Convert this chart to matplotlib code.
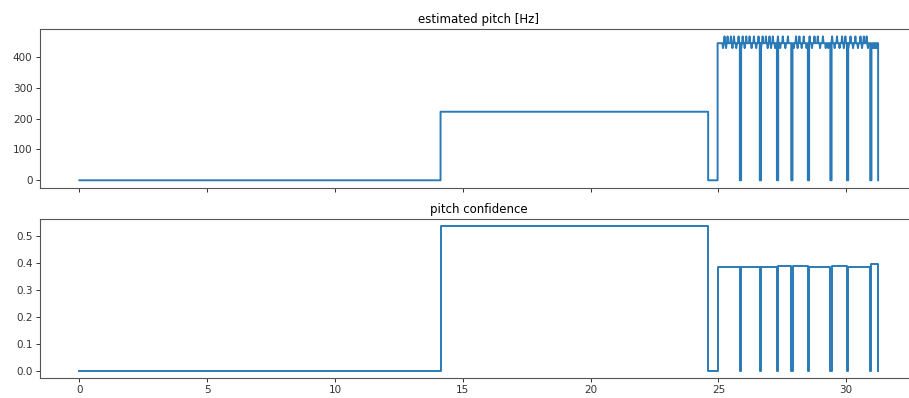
import numpy as np
import matplotlib
matplotlib.use("Agg")
import matplotlib.pyplot as plt

# unvoiced / voiced blocks (seconds)
onset_low = 14.13          # first note starts
offset_low = 24.60         # first note ends
onset_high = 24.97         # second note starts
offset_high = 31.25        # last frame
pitch_low = 222.0
pitch_high = 444.0
conf_low = 0.535

# small pitch wobble inside the high note
up_times = [25.24, 25.36, 25.49, 25.61, 25.79, 25.95, 26.09, 26.22, 26.39, 26.57,
            26.73, 26.86, 27.00, 27.13, 27.33, 27.52, 27.72, 28.04, 28.17, 28.34,
            28.57, 28.76, 28.89, 29.09, 29.45, 29.64, 29.84, 29.97, 30.17, 30.36,
            30.56, 30.69, 30.80]
up_value = 466.0
down_times = [25.18, 25.30, 25.55, 25.70, 25.89, 26.03, 26.30, 26.48, 26.67, 26.93,
              27.06, 27.22, 27.42, 27.62, 27.95, 28.10, 28.26, 28.45, 28.66, 28.98,
              29.20, 29.30, 29.55, 29.74, 29.91, 30.08, 30.27, 30.46, 30.62, 30.85,
              31.05, 31.12, 31.18]
down_value = 428.0

# frames where the tracker dropped to 0
drop_times = [25.84, 26.62, 27.29, 27.85, 28.50, 29.38, 30.03, 30.94]
# confidence level of each piece between drops (9 pieces)
conf_levels = [0.383, 0.385, 0.386, 0.390, 0.387, 0.384, 0.387, 0.384, 0.394]

DROP_W = 0.05   # width of a dropped frame (s)
SPIKE_W = 0.025  # half-width of a wobble spike (s)


def build_pitch():
    t = [0.0, onset_low, onset_low, offset_low, offset_low, onset_high, onset_high]
    v = [0.0, 0.0, pitch_low, pitch_low, 0.0, 0.0, pitch_high]
    ev = [(x, up_value, "s") for x in up_times]
    ev += [(x, down_value, "s") for x in down_times]
    ev += [(x, 0.0, "d") for x in drop_times]
    for x, val, kind in sorted(ev):
        if kind == "s":
            t += [x - SPIKE_W, x, x + SPIKE_W]
            v += [pitch_high, val, pitch_high]
        else:
            t += [x, x, x + DROP_W, x + DROP_W]
            v += [pitch_high, 0.0, 0.0, pitch_high]
    t += [offset_high, offset_high]
    v += [pitch_high, 0.0]
    return np.array(t), np.array(v)


def build_conf():
    t = [0.0, onset_low, onset_low, offset_low, offset_low, onset_high]
    v = [0.0, 0.0, conf_low, conf_low, 0.0, 0.0]
    edges = [onset_high] + drop_times + [offset_high]
    for i, lvl in enumerate(conf_levels):
        a = edges[i] + (DROP_W if i > 0 else 0.0)
        b = edges[i + 1]
        t += [a, a, b, b]
        v += [0.0, lvl, lvl, 0.0]
    return np.array(t), np.array(v)


fig = plt.figure(figsize=(9.09, 3.98), dpi=100)
ax1 = fig.add_axes([39.5 / 909, 1 - 187.7 / 398, 878.5 / 909, 158.7 / 398])
ax2 = fig.add_axes([39.5 / 909, 1 - 378.3 / 398, 878.5 / 909, 159.3 / 398], sharex=ax1)

tp, vp = build_pitch()
tc, vc = build_conf()
ax1.plot(tp, vp, color="#2a7ab8", lw=1.4)
ax2.plot(tc, vc, color="#2a7ab8", lw=1.4)

ax1.set_title("estimated pitch [Hz]", fontsize=8.5, pad=4)
ax2.set_title("pitch confidence", fontsize=8.5, pad=4)
ax1.set_xlim(-1.56, 32.81)
ax1.set_ylim(-24, 490)
ax2.set_ylim(-0.027, 0.562)
ax1.set_yticks([0, 100, 200, 300, 400])
ax2.set_yticks([0.0, 0.1, 0.2, 0.3, 0.4, 0.5])
ax1.set_xticks([0, 5, 10, 15, 20, 25, 30])
plt.setp(ax1.get_xticklabels(), visible=False)
for a in (ax1, ax2):
    a.tick_params(labelsize=7.5, length=3, width=0.7, pad=2, colors="#333333")
    for s in a.spines.values():
        s.set_color("#555555")
        s.set_linewidth(0.8)

fig.savefig("out.png", dpi=100)
